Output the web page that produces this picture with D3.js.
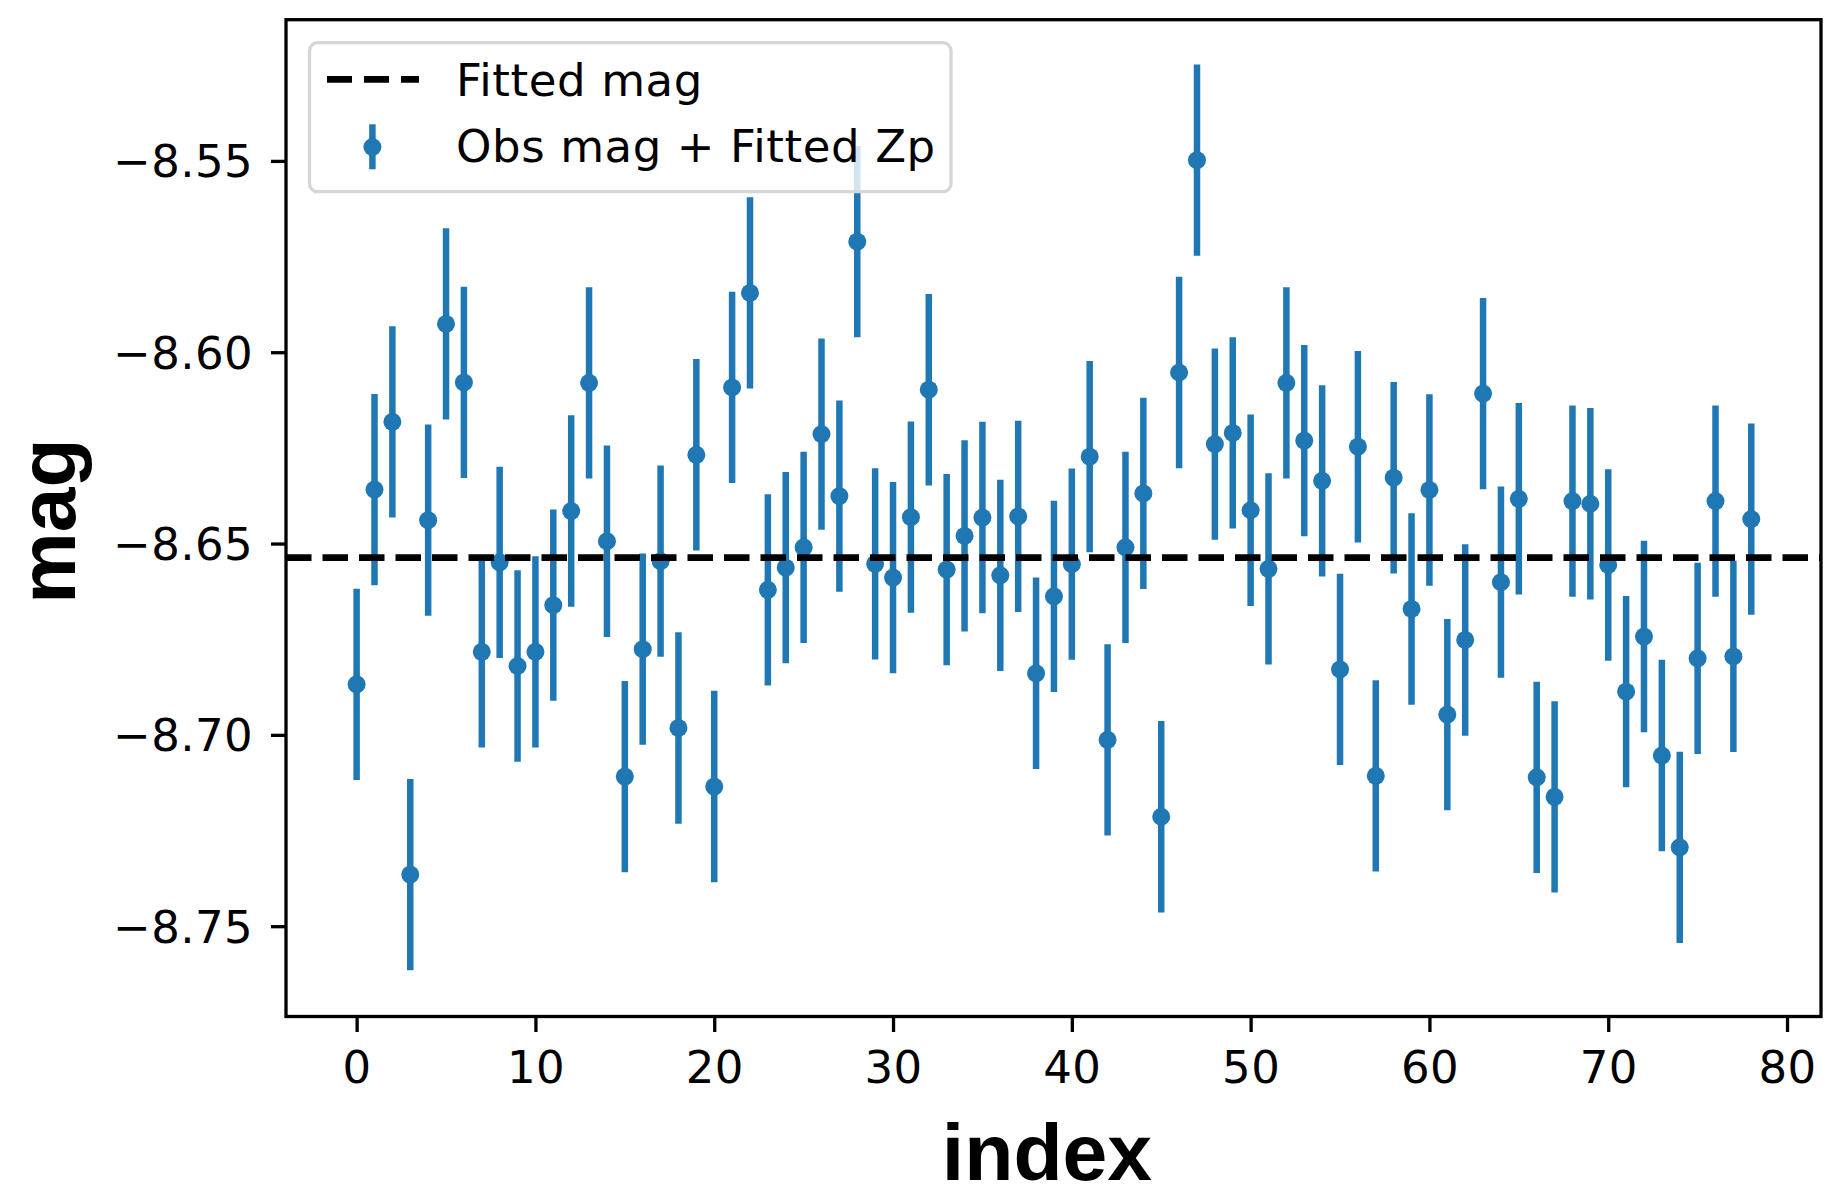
<!DOCTYPE html>
<html>
<head>
<meta charset="utf-8">
<script src="https://cdn.jsdelivr.net/npm/d3@7"></script>
<style>
  html, body { margin: 0; padding: 0; background: #ffffff; }
  svg { display: block; }
</style>
</head>
<body>
<script>
// ---------------- data ----------------
const mags = [
  -8.6868, -8.6359, -8.6182, -8.7365, -8.6439, -8.5926, -8.6079, -8.6783, -8.6549, -8.6820,
  -8.6783, -8.6661, -8.6415, -8.6080, -8.6494, -8.7109, -8.6776, -8.6546, -8.6982, -8.6268,
  -8.7135, -8.6092, -8.5845, -8.6621, -8.6563, -8.6510, -8.6214, -8.6376, -8.5711, -8.6553,
  -8.6589, -8.6431, -8.6098, -8.6568, -8.6480, -8.6432, -8.6583, -8.6429, -8.6839, -8.6638,
  -8.6554, -8.6273, -8.7013, -8.6510, -8.6369, -8.7214, -8.6053, -8.5498, -8.6240, -8.6211,
  -8.6413, -8.6566, -8.6080, -8.6231, -8.6336, -8.6829, -8.6247, -8.7107, -8.6328, -8.6671,
  -8.6360, -8.6947, -8.6752, -8.6108, -8.6601, -8.6383, -8.7111, -8.7162, -8.6389, -8.6396,
  -8.6556, -8.6887, -8.6743, -8.7054, -8.7294, -8.6800, -8.6389, -8.6795, -8.6436
];
const errs = [
  0.025, 0.025, 0.025, 0.025, 0.025, 0.025, 0.025, 0.025, 0.025, 0.025,
  0.025, 0.025, 0.025, 0.025, 0.025, 0.025, 0.025, 0.025, 0.025, 0.025,
  0.025, 0.025, 0.025, 0.025, 0.025, 0.025, 0.025, 0.025, 0.025, 0.025,
  0.025, 0.025, 0.025, 0.025, 0.025, 0.025, 0.025, 0.025, 0.025, 0.025,
  0.025, 0.025, 0.025, 0.025, 0.025, 0.025, 0.025, 0.025, 0.025, 0.025,
  0.025, 0.025, 0.025, 0.025, 0.025, 0.025, 0.025, 0.025, 0.025, 0.025,
  0.025, 0.025, 0.025, 0.025, 0.025, 0.025, 0.025, 0.025, 0.025, 0.025,
  0.025, 0.025, 0.025, 0.025, 0.025, 0.025, 0.025, 0.025, 0.025
];
const indices = mags.map((_, i) => i);
const fittedMag = -8.6537;
const xDomain = [-3.95, 81.9];
const yDomain = [-8.7736, -8.5131];
const xTicks = [0, 10, 20, 30, 40, 50, 60, 70, 80];
const xTickLabels = ["0", "10", "20", "30", "40", "50", "60", "70", "80"];
const yTicks = [-8.55, -8.60, -8.65, -8.70, -8.75];
const yTickLabels = ["\u22128.55", "\u22128.60", "\u22128.65", "\u22128.70", "\u22128.75"];
const legendLabels = ["Fitted mag", "Obs mag + Fitted Zp"];
const xLabel = "index";
const yLabel = "mag";

// ---------------- layout ----------------
const W = 1824, H = 1190;
const plot = { left: 286, right: 1821, top: 19.7, bottom: 1016.5 };
const blue = "#1f77b4";
const tickFont = "'DejaVu Sans', sans-serif";
const labelFont = "'Liberation Sans', Arial, sans-serif";
const tickSize = "45px";

const svg = d3.select("body").append("svg")
  .attr("width", W).attr("height", H)
  .attr("viewBox", `0 0 ${W} ${H}`);
svg.append("rect").attr("width", W).attr("height", H).attr("fill", "#ffffff");

const x = d3.scaleLinear().domain(xDomain).range([plot.left, plot.right]);
const y = d3.scaleLinear().domain(yDomain).range([plot.bottom, plot.top]);

const data = indices.map((i, k) => ({ i, m: mags[k], e: errs[k] }));

// error bars
svg.append("g").selectAll("line").data(data).join("line")
  .attr("x1", d => x(d.i)).attr("x2", d => x(d.i))
  .attr("y1", d => y(d.m - d.e)).attr("y2", d => y(d.m + d.e))
  .attr("stroke", blue).attr("stroke-width", 6.5);

// markers
svg.append("g").selectAll("circle").data(data).join("circle")
  .attr("cx", d => x(d.i)).attr("cy", d => y(d.m)).attr("r", 9)
  .attr("fill", blue);

// fitted line (on top)
svg.append("line")
  .attr("x1", plot.left).attr("x2", plot.right)
  .attr("y1", y(fittedMag)).attr("y2", y(fittedMag))
  .attr("stroke", "#000").attr("stroke-width", 6.7)
  .attr("stroke-dasharray", "25.5,11");

// axes
const yAxis = svg.append("g").attr("transform", `translate(${plot.left},0)`)
  .call(d3.axisLeft(y).tickValues(yTicks).tickSize(15).tickPadding(18)
    .tickFormat((d, k) => yTickLabels[k]));
const xAxis = svg.append("g").attr("transform", `translate(0,${plot.bottom})`)
  .call(d3.axisBottom(x).tickValues(xTicks).tickSize(15.5).tickPadding(19)
    .tickFormat((d, k) => xTickLabels[k]));
[yAxis, xAxis].forEach(g => {
  g.select(".domain").remove();
  g.selectAll(".tick line").attr("stroke", "#000").attr("stroke-width", 3.3);
  g.selectAll(".tick text").attr("fill", "#000")
    .style("font-family", tickFont).style("font-size", tickSize)
    .style("letter-spacing", "0.4px");
});
yAxis.selectAll(".tick text").attr("dy", "0.355em");

// frame
svg.append("rect")
  .attr("x", plot.left).attr("y", plot.top)
  .attr("width", plot.right - plot.left).attr("height", plot.bottom - plot.top)
  .attr("fill", "none").attr("stroke", "#000").attr("stroke-width", 3.3);

// axis labels
svg.append("text")
  .attr("x", 1047).attr("y", 1180)
  .attr("text-anchor", "middle")
  .style("font-family", labelFont).style("font-weight", "bold").style("font-size", "80.5px")
  .text(xLabel);
svg.append("text")
  .attr("transform", "translate(75,521) rotate(-90)")
  .attr("text-anchor", "middle")
  .style("font-family", labelFont).style("font-weight", "bold").style("font-size", "80.5px")
  .text(yLabel);

// legend
const lg = svg.append("g");
lg.append("rect")
  .attr("x", 309.5).attr("y", 42.7).attr("width", 641.5).attr("height", 149)
  .attr("rx", 8).attr("ry", 8)
  .attr("fill", "#ffffff").attr("fill-opacity", 0.8)
  .attr("stroke", "#d6d6d6").attr("stroke-width", 3.3);
lg.append("line")
  .attr("x1", 327).attr("x2", 419).attr("y1", 79.3).attr("y2", 79.3)
  .attr("stroke", "#000").attr("stroke-width", 6.7)
  .attr("stroke-dasharray", "25,12");
lg.append("line")
  .attr("x1", 372.4).attr("x2", 372.4).attr("y1", 124.3).attr("y2", 169.3)
  .attr("stroke", blue).attr("stroke-width", 6.5);
lg.append("circle").attr("cx", 372.4).attr("cy", 147).attr("r", 9).attr("fill", blue);
lg.selectAll("text.lab").data(legendLabels).join("text")
  .attr("class", "lab")
  .attr("x", 456).attr("y", (d, k) => [96, 162][k])
  .style("font-family", tickFont).style("font-size", tickSize)
  .style("letter-spacing", "0.6px").attr("fill", "#000")
  .text(d => d);
</script>
</body>
</html>
